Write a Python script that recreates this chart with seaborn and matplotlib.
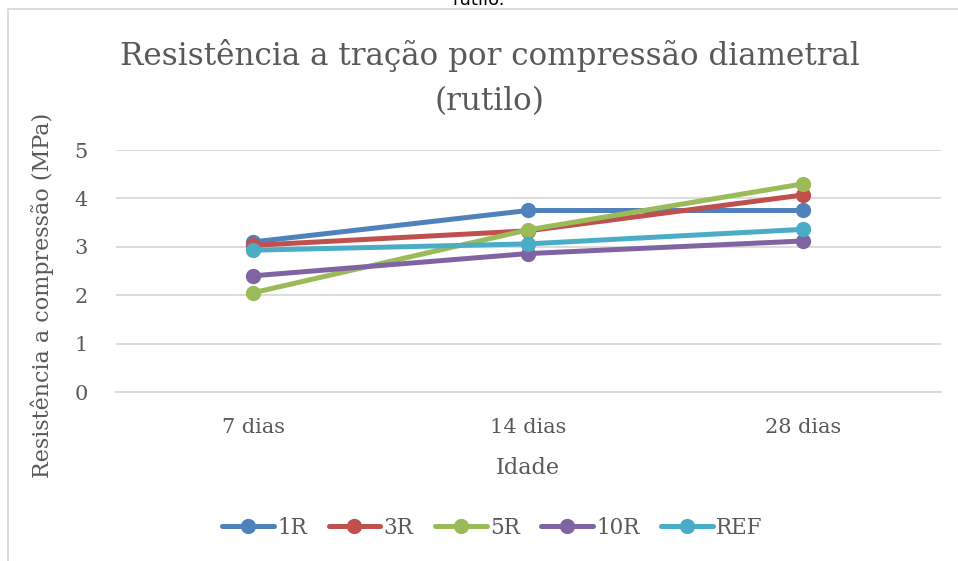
import matplotlib
matplotlib.use("Agg")
import matplotlib.pyplot as plt
import seaborn as sns
import pandas as pd
from matplotlib.lines import Line2D

# data
idades = ["7 dias", "14 dias", "28 dias"]
series = ["1R", "3R", "5R", "10R", "REF"]
v_1r = [3.10, 3.75, 3.75]
v_3r = [3.03, 3.33, 4.07]
v_5r = [2.05, 3.35, 4.30]
v_10r = [2.40, 2.86, 3.12]
v_ref = [2.93, 3.06, 3.36]
cores = ["#4f81bd", "#c0504d", "#9bbb59", "#8064a2", "#4bacc6"]

valores = [v_1r, v_3r, v_5r, v_10r, v_ref]
rows = []
for nome, vals in zip(series, valores):
    for i, (idade, v) in enumerate(zip(idades, vals)):
        rows.append({"serie": nome, "pos": i, "idade": idade, "valor": v})
df = pd.DataFrame(rows)

sns.set_style("white")
plt.rcParams["font.family"] = ["DejaVu Serif", "Liberation Serif"]
texto = "#595959"
grade = "#d9d9d9"

fig = plt.figure(figsize=(9.58, 5.61), dpi=100)
ax = fig.add_axes([115.5 / 958, 1 - 392 / 561, 825 / 958, 242 / 561])

sns.lineplot(data=df, x="pos", y="valor", hue="serie", hue_order=series,
             palette=cores, marker="o", markersize=11, markeredgewidth=0,
             linewidth=3.6, ax=ax, legend=False)

ax.set_xlim(-0.5, 2.5)
ax.set_ylim(0, 5)
ax.set_xticks(range(len(idades)))
ax.set_xticklabels(idades)
ax.set_yticks(range(6))
ax.yaxis.grid(True, color=grade, linewidth=1.3)
ax.set_axisbelow(True)
for s in ["top", "right", "left"]:
    ax.spines[s].set_visible(False)
ax.spines["bottom"].set_color(grade)
ax.spines["bottom"].set_linewidth(1.3)
ax.tick_params(axis="both", length=0, labelsize=15, labelcolor=texto)
ax.tick_params(axis="x", pad=19)
ax.tick_params(axis="y", pad=20)
ax.set_xlabel("Idade", fontsize=16, color=texto, labelpad=14)
ax.set_ylabel("Resistência a compressão (MPa)", fontsize=16, color=texto)
ax.yaxis.set_label_coords((54 - 115.5) / 825, (392 - 295) / 242)

fig.text(0.511, 1 - 55 / 561, "Resistência a tração por compressão diametral",
         ha="center", va="center", fontsize=22.3, color=texto)
fig.text(0.511, 1 - 102 / 561, "(rutilo)",
         ha="center", va="center", fontsize=22.3, color=texto)
fig.text(0.5, 1.0, "rutilo.", ha="center", va="center", fontsize=13,
         color="black", family="DejaVu Sans")

# chart frame edges
fig.add_artist(Line2D([8 / 958, 1], [1 - 9 / 561] * 2, color=grade, lw=1.3))
fig.add_artist(Line2D([8 / 958] * 2, [0, 1 - 9 / 561], color=grade, lw=1.3))

handles = [Line2D([], [], color=c, lw=3.6, marker="o", markersize=11,
                  markeredgewidth=0) for c in cores]
fig.legend(handles, series, loc="center", bbox_to_anchor=(0.514, 1 - 528 / 561),
           ncol=5, frameon=False, fontsize=15.5, labelcolor=texto,
           handlelength=2.4, handletextpad=0.15, columnspacing=1.0)

fig.savefig("out.png", dpi=100)
